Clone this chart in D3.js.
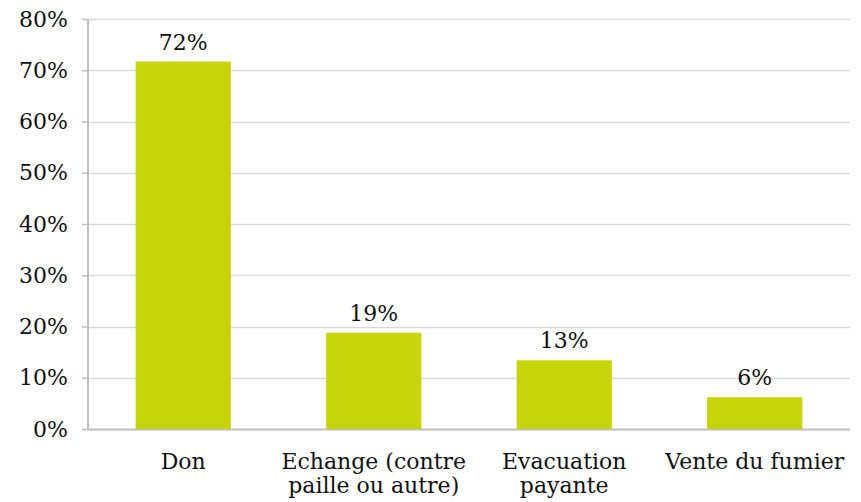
<!DOCTYPE html>
<html>
<head>
<meta charset="utf-8">
<script src="https://cdn.jsdelivr.net/npm/d3@7"></script>
<style>
  body { margin: 0; background: #fff; }
  text { font-family: "DejaVu Serif", serif; fill: #111; }
</style>
</head>
<body>
<div id="chart"></div>
<script>
var categories = [['Don'], ['Echange (contre', 'paille ou autre)'], ['Evacuation', 'payante'], ['Vente du fumier']];
var values = [71.7, 18.8, 13.4, 6.2];
var valueLabels = ['72%', '19%', '13%', '6%'];
var yTicks = [0, 10, 20, 30, 40, 50, 60, 70, 80];

var width = 861, height = 502;
var margin = { top: 19, right: 11, bottom: 73, left: 88 };
var innerW = width - margin.left - margin.right,
    innerH = height - margin.top - margin.bottom;
var fontSize = 22;

var svg = d3.select('#chart')
    .append('svg')
    .attr('width', width)
    .attr('height', height);

var g = svg.append('g')
    .attr('transform', 'translate(' + margin.left + ',' + margin.top + ')');

var x = d3.scaleBand()
    .domain(d3.range(categories.length))
    .range([0, innerW])
    .paddingInner(0.5)
    .paddingOuter(0.25);

var y = d3.scaleLinear()
    .domain([0, 80])
    .range([innerH, 0]);

// gridlines
g.append('g')
    .selectAll('line')
    .data(yTicks)
    .enter()
    .append('line')
    .attr('x1', 0)
    .attr('x2', innerW)
    .attr('y1', function (d) { return Math.round(y(d)) + 0.5; })
    .attr('y2', function (d) { return Math.round(y(d)) + 0.5; })
    .attr('stroke', function (d) { return d === 0 ? '#bfbfbf' : '#d9d9d9'; })
    .attr('stroke-width', function (d) { return d === 0 ? 2 : 1.5; });

// y axis
var yAxis = g.append('g')
    .call(d3.axisLeft(y).tickValues(yTicks).tickSize(6).tickPadding(14)
      .tickFormat(function (d) { return d + '%'; }));
yAxis.select('.domain').attr('stroke', '#bfbfbf').attr('stroke-width', 2)
    .attr('d', 'M0,' + innerH + 'V0');
yAxis.selectAll('.tick line').attr('stroke', '#bfbfbf').attr('stroke-width', 1.5);
yAxis.selectAll('.tick text')
    .attr('font-size', fontSize)
    .attr('fill', '#111');

// bars
g.append('g')
    .selectAll('rect')
    .data(values)
    .enter()
    .append('rect')
    .attr('x', function (d, i) { return x(i); })
    .attr('y', function (d) { return y(d); })
    .attr('width', x.bandwidth())
    .attr('height', function (d) { return innerH - y(d); })
    .attr('fill', '#c8d40a');

// value labels
g.append('g')
    .selectAll('text')
    .data(values)
    .enter()
    .append('text')
    .attr('x', function (d, i) { return x(i) + x.bandwidth() / 2; })
    .attr('y', function (d) { return y(d) - 12; })
    .attr('text-anchor', 'middle')
    .attr('font-size', fontSize)
    .text(function (d, i) { return valueLabels[i]; });

// category labels
var cats = g.append('g')
    .selectAll('text')
    .data(categories)
    .enter()
    .append('text')
    .attr('x', function (d, i) { return x(i) + x.bandwidth() / 2; })
    .attr('y', innerH + 40)
    .attr('text-anchor', 'middle')
    .attr('font-size', fontSize);
cats.selectAll('tspan')
    .data(function (d) { return d; })
    .enter()
    .append('tspan')
    .attr('x', function () { return d3.select(this.parentNode).attr('x'); })
    .attr('dy', function (d, i) { return i === 0 ? 0 : 24; })
    .text(function (d) { return d; });
</script>
</body>
</html>
